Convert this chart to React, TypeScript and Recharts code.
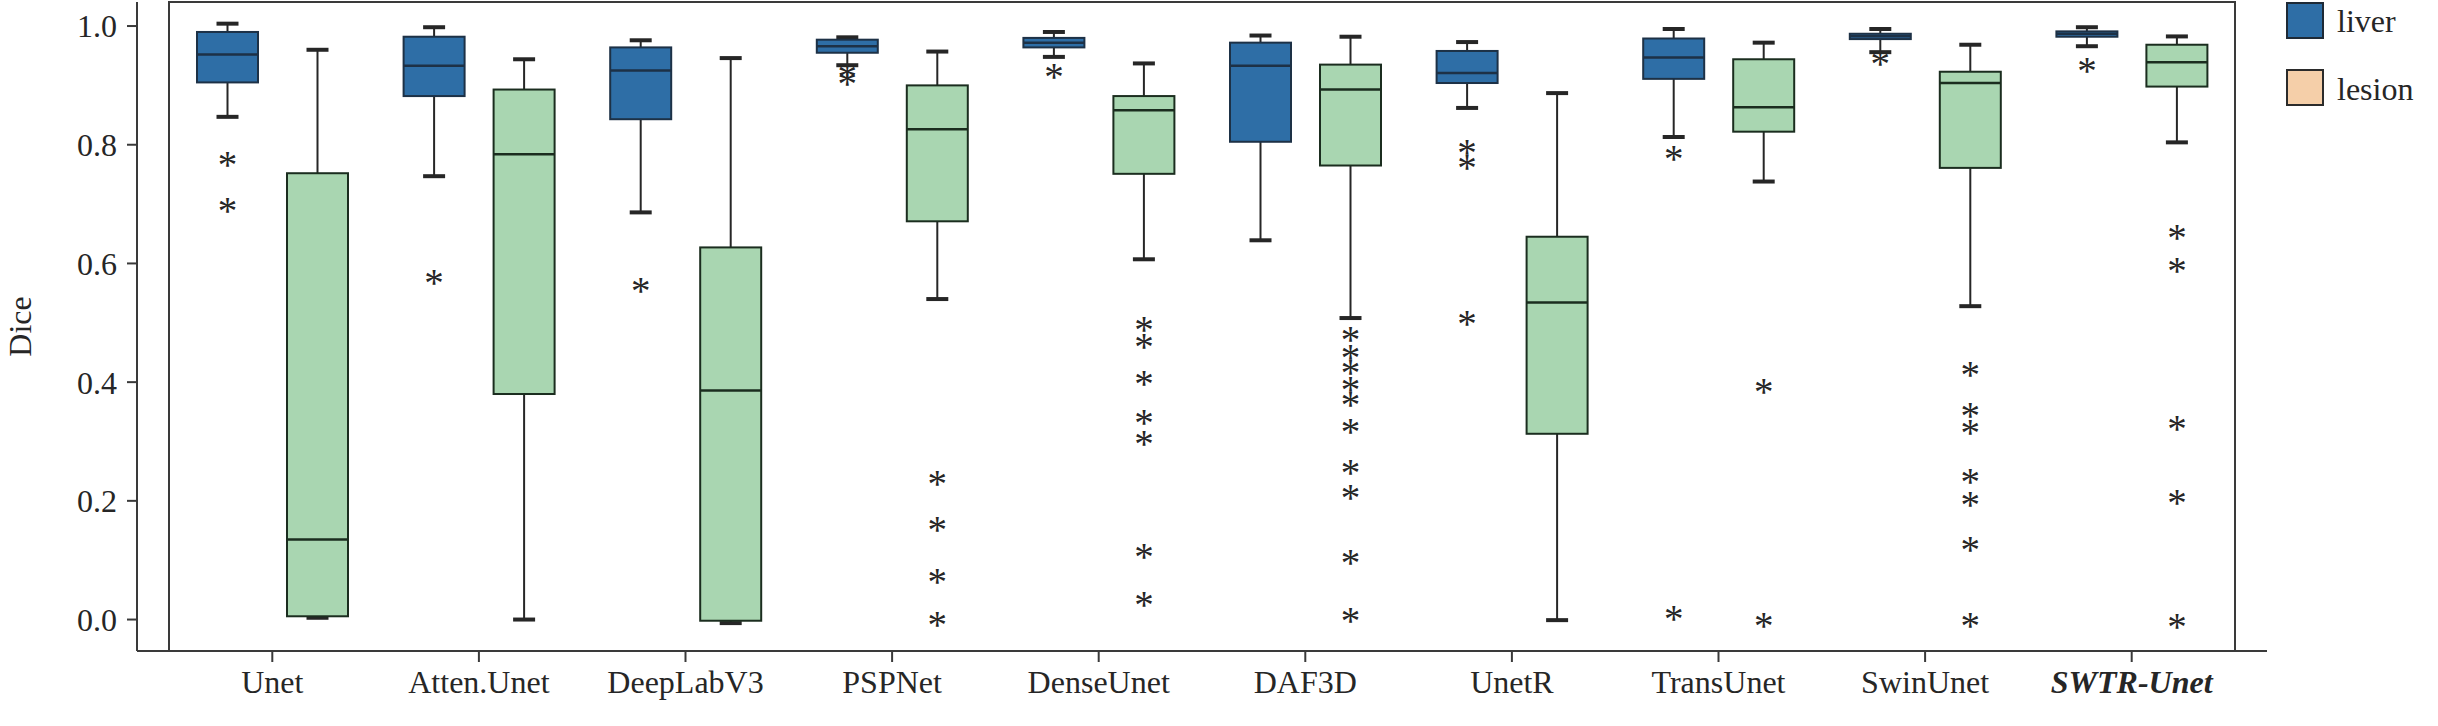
import { Bar, ComposedChart, Legend, ReferenceArea, XAxis, YAxis } from 'recharts'

const categories = [
  'Unet',
  'Atten.Unet',
  'DeepLabV3',
  'PSPNet',
  'DenseUnet',
  'DAF3D',
  'UnetR',
  'TransUnet',
  'SwinUnet',
  'SWTR-Unet',
]

// liver (blue) boxes
const liverMax = [1.004, 0.998, 0.976, 0.981, 0.99, 0.984, 0.973, 0.995, 0.995, 0.998]
const liverQ3 = [0.99, 0.982, 0.964, 0.977, 0.98, 0.972, 0.958, 0.979, 0.987, 0.991]
const liverMedian = [0.952, 0.933, 0.925, 0.966, 0.972, 0.933, 0.921, 0.947, 0.983, 0.987]
const liverQ1 = [0.905, 0.882, 0.843, 0.955, 0.964, 0.805, 0.904, 0.911, 0.978, 0.982]
const liverMin = [0.847, 0.747, 0.686, 0.934, 0.948, 0.639, 0.862, 0.813, 0.956, 0.966]
const liverOutliers = [
  [0.774, 0.697],
  [0.576],
  [0.562],
  [0.923, 0.91],
  [0.923],
  [],
  [0.794, 0.769, 0.507],
  [0.784, 0.009],
  [0.944],
  [0.932],
]

// lesion (green) boxes
const lesionMax = [0.96, 0.944, 0.946, 0.957, 0.937, 0.982, 0.887, 0.972, 0.9685, 0.9825]
const lesionQ3 = [0.752, 0.893, 0.627, 0.9, 0.882, 0.935, 0.645, 0.944, 0.923, 0.9685]
const lesionMedian = [0.135, 0.784, 0.386, 0.826, 0.858, 0.893, 0.534, 0.863, 0.904, 0.939]
const lesionQ1 = [0.0055, 0.38, -0.002, 0.671, 0.751, 0.765, 0.313, 0.822, 0.761, 0.898]
const lesionMin = [0.003, 0.0, -0.006, 0.54, 0.607, 0.508, -0.001, 0.738, 0.528, 0.804]
const lesionOutliers = [
  [],
  [],
  [],
  [0.237, 0.16, 0.072, 0.0],
  [0.497, 0.468, 0.405, 0.34, 0.305, 0.114, 0.033],
  [0.479, 0.4485, 0.423, 0.395, 0.37, 0.325, 0.255, 0.2135, 0.103, 0.0056],
  [],
  [0.392, -0.002],
  [0.421, 0.352, 0.323, 0.241, 0.2016, 0.125, -0.002],
  [0.651, 0.595, 0.329, 0.205, -0.004],
]

const yTicks = [0, 0.2, 0.4, 0.6, 0.8, 1.0]
const yDomain = [-0.053, 1.0405]

type BoxStats = { min: number; q1: number; median: number; q3: number; max: number; outliers: number[] }
type Row = { name: string; liver: BoxStats; lesion: BoxStats }

const rows: Row[] = categories.map((name, i) => ({
  name,
  liver: {
    min: liverMin[i],
    q1: liverQ1[i],
    median: liverMedian[i],
    q3: liverQ3[i],
    max: liverMax[i],
    outliers: liverOutliers[i],
  },
  lesion: {
    min: lesionMin[i],
    q1: lesionQ1[i],
    median: lesionMedian[i],
    q3: lesionQ3[i],
    max: lesionMax[i],
    outliers: lesionOutliers[i],
  },
}))

const FONT = '"Liberation Serif", "Times New Roman", serif'
const INK = '#262626'
const FRAME = '#3a3a3a'

const palette = {
  liver: { fill: '#2e6ea6', edge: '#1d3146' },
  lesion: { fill: '#a9d6b1', edge: '#1b2d1f' },
}

function BoxShape(props: any) {
  const { x, y, width, height, payload, series } = props
  const s: BoxStats = payload[series]
  const colors = palette[series as 'liver' | 'lesion']
  // the bar spans [min, max]; its pixel box gives the y scale for the other stats
  const top = Math.min(y, y + height)
  const bottom = Math.max(y, y + height)
  const k = (bottom - top) / (s.max - s.min)
  const py = (v: number) => top + (s.max - v) * k
  const cx = x + width / 2
  const cap = 11

  return (
    <g>
      <line x1={cx} x2={cx} y1={py(s.max)} y2={py(s.q3)} stroke={INK} strokeWidth={2} />
      <line x1={cx} x2={cx} y1={py(s.q1)} y2={py(s.min)} stroke={INK} strokeWidth={2} />
      <line x1={cx - cap} x2={cx + cap} y1={py(s.max)} y2={py(s.max)} stroke={INK} strokeWidth={4} />
      <line x1={cx - cap} x2={cx + cap} y1={py(s.min)} y2={py(s.min)} stroke={INK} strokeWidth={4} />
      <rect
        x={x}
        y={py(s.q3)}
        width={width}
        height={Math.max(py(s.q1) - py(s.q3), 0.5)}
        fill={colors.fill}
        stroke={colors.edge}
        strokeWidth={2}
      />
      <line x1={x} x2={x + width} y1={py(s.median)} y2={py(s.median)} stroke={colors.edge} strokeWidth={2.5} />
      {s.outliers.map((v, j) => (
        <text
          key={j}
          x={cx}
          y={py(v)}
          dy={18}
          textAnchor="middle"
          fontFamily={FONT}
          fontSize={39}
          fill={INK}
        >
          *
        </text>
      ))}
    </g>
  )
}

function CategoryTick({ x, y, payload }: any) {
  const ours = payload.value === 'SWTR-Unet'
  return (
    <text
      x={x}
      y={y}
      dy={31}
      textAnchor="middle"
      fontFamily={FONT}
      fontSize={32}
      fontStyle={ours ? 'italic' : 'normal'}
      fontWeight={ours ? 'bold' : 'normal'}
      fill={INK}
    >
      {payload.value}
    </text>
  )
}

function DiceLabel(props: any) {
  const vb = props.viewBox ?? { x: 0, y: 2, width: 137, height: 649 }
  const lx = vb.x + 31
  const ly = vb.y + vb.height / 2
  return (
    <text
      x={lx}
      y={ly}
      transform={`rotate(-90, ${lx}, ${ly})`}
      textAnchor="middle"
      fontFamily={FONT}
      fontSize={32}
      fill={INK}
    >
      Dice
    </text>
  )
}

function LegendBox() {
  return (
    <svg width={160} height={110} style={{ display: 'block', overflow: 'visible' }}>
      <rect x={2} y={3} width={36} height={35} fill={palette.liver.fill} stroke="#1e2a36" strokeWidth={2} />
      <text x={52} y={32} fontFamily={FONT} fontSize={32} fill={INK}>
        liver
      </text>
      <rect x={2} y={70} width={36} height={35} fill="#f5cfa9" stroke="#2b2b2b" strokeWidth={2} />
      <text x={52} y={100} fontFamily={FONT} fontSize={32} fill={INK}>
        lesion
      </text>
    </svg>
  )
}

export default function App() {
  return (
    <div style={{ width: 2438, height: 726, background: '#fff' }}>
      <style>{'body{margin:0}'}</style>
      <ComposedChart
        width={2438}
        height={726}
        data={rows}
        margin={{ top: 2, right: 171, bottom: 0, left: 0 }}
        barSize={61}
        barGap={29}
      >
        <XAxis
          dataKey="name"
          height={75}
          padding={{ left: 32, right: 32 }}
          tickSize={11}
          tickMargin={0}
          tickLine={{ stroke: FRAME, strokeWidth: 2 }}
          axisLine={{ stroke: FRAME, strokeWidth: 2 }}
          tick={<CategoryTick />}
          interval={0}
        />
        <YAxis
          type="number"
          width={137}
          domain={yDomain}
          ticks={yTicks}
          tickFormatter={(v: number) => v.toFixed(1)}
          tickSize={10}
          tickMargin={10}
          tickLine={{ stroke: FRAME, strokeWidth: 2 }}
          axisLine={{ stroke: FRAME, strokeWidth: 2 }}
          tick={{ fontFamily: FONT, fontSize: 32, fill: INK }}
          label={(p: any) => <DiceLabel {...p} />}
        />
        <ReferenceArea y1={yDomain[0]} y2={yDomain[1]} fill="none" stroke={FRAME} strokeWidth={2} ifOverflow="visible" />
        <Bar
          name="liver"
          dataKey={(d: Row) => [d.liver.min, d.liver.max]}
          isAnimationActive={false}
          shape={(p: any) => <BoxShape {...p} series="liver" />}
        />
        <Bar
          name="lesion"
          dataKey={(d: Row) => [d.lesion.min, d.lesion.max]}
          isAnimationActive={false}
          shape={(p: any) => <BoxShape {...p} series="lesion" />}
        />
        <Legend
          content={() => <LegendBox />}
          wrapperStyle={{ position: 'absolute', left: 2285, top: 0, width: 0, height: 0, overflow: 'visible' }}
        />
      </ComposedChart>
    </div>
  )
}
